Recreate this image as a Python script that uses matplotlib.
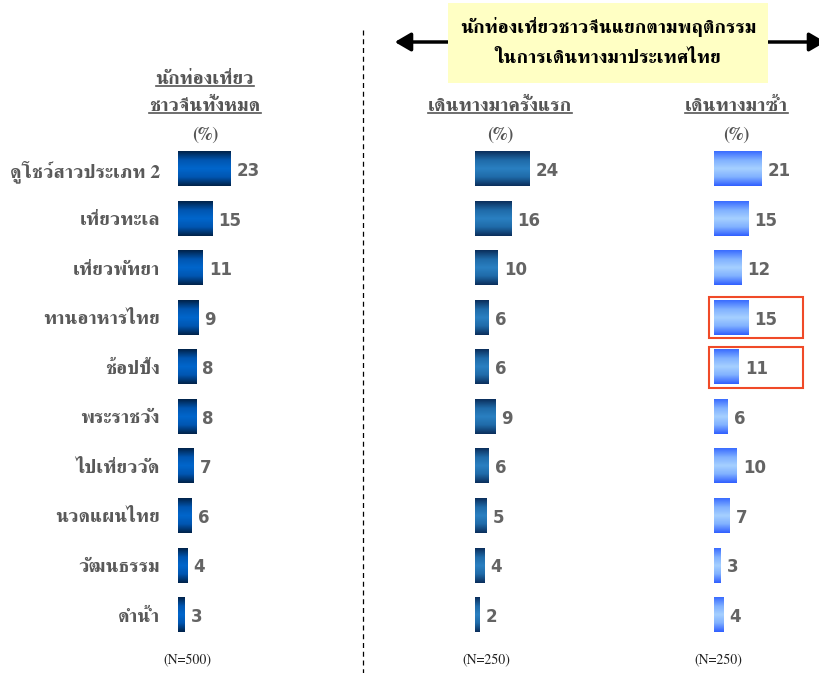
import numpy as np
import matplotlib
matplotlib.use("Agg")
import matplotlib.pyplot as plt
from matplotlib.colors import LinearSegmentedColormap
from matplotlib.patches import Rectangle, FancyArrowPatch

categories = ["ดูโชว์สาวประเภท 2", "เที่ยวทะเล", "เที่ยวพัทยา", "ทานอาหารไทย", "ช้อปปิ้ง",
              "พระราชวัง", "ไปเที่ยววัด", "นวดแผนไทย", "วัฒนธรรม", "ดำน้ำ"]
all_chinese = [23, 15, 11, 9, 8, 8, 7, 6, 4, 3]
first_time = [24, 16, 10, 6, 6, 9, 6, 5, 4, 2]
repeat = [21, 15, 12, 15, 11, 6, 10, 7, 3, 4]
panel_titles = [["นักท่องเที่ยว", "ชาวจีนทั้งหมด"], ["เดินทางมาครั้งแรก"], ["เดินทางมาซ้ำ"]]
sample_sizes = ["(N=500)", "(N=250)", "(N=250)"]
banner = ["นักท่องเที่ยวชาวจีนแยกตามพฤติกรรม", "ในการเดินทางมาประเทศไทย"]
highlight_rows = [3, 4]

THAI = ["FreeSerif", "DejaVu Sans"]
W, H = 819, 673
fig = plt.figure(figsize=(W / 100, H / 100), dpi=100)

def fx(px):
    return px / W

def fy(py):
    return 1 - py / H

scale = 2.27  # px per unit
row0, row_step = 169, 49.56
top_px = row0 - row_step / 2
bot_px = row0 + 9 * row_step + row_step / 2
ax_w_px = 110
cmaps = [
    LinearSegmentedColormap.from_list("p1", ["#00234a", "#0055b0", "#0066cc", "#0055b0", "#00234a"]),
    LinearSegmentedColormap.from_list("p2", ["#0b2f5c", "#1f6aa8", "#2a80c2", "#1f6aa8", "#0b2f5c"]),
    LinearSegmentedColormap.from_list("p3", ["#3a6cff", "#7fb0ff", "#a6d0ff", "#7fb0ff", "#3160ff"]),
]
starts = [178, 475, 714]
series = [all_chinese, first_time, repeat]
axes = []
grad = np.linspace(0, 1, 64).reshape(-1, 1)
for k in range(3):
    ax = fig.add_axes([fx(starts[k]), fy(bot_px), fx(ax_w_px), (bot_px - top_px) / H])
    xmax = ax_w_px / scale
    y = np.arange(len(categories))
    bars = ax.barh(y, series[k], height=0.69, color="none", edgecolor="none")
    for b, v in zip(bars, series[k]):
        x0, y0, w, h = b.get_x(), b.get_y(), b.get_width(), b.get_height()
        ax.imshow(grad, extent=[x0, x0 + w, y0 + h, y0], aspect="auto", cmap=cmaps[k],
                  interpolation="bilinear", zorder=2)
        ax.text(x0 + w + 6 / scale, b.get_y() + h / 2 + 0.04, str(v), va="center", ha="left",
                fontsize=12, fontweight="bold", color="#646464", family="DejaVu Sans")
    ax.set_xlim(0, xmax)
    ax.set_ylim(len(categories) - 0.5, -0.5)
    for s in ax.spines.values():
        s.set_visible(False)
    ax.set_xticks([])
    if k == 0:
        ax.set_yticks(y)
        ax.set_yticklabels(categories, fontsize=14, fontweight="bold", color="#595959",
                           family=THAI)
        ax.tick_params(axis="y", length=0, pad=13)
    else:
        ax.set_yticks([])
    ax.patch.set_alpha(0)
    axes.append(ax)

# highlight boxes on repeat panel
ax3 = axes[2]
for r in highlight_rows:
    ax3.add_patch(Rectangle((-5 / scale, r - 0.41), 94 / scale, 0.82, fill=False,
                            edgecolor="#f04a28", lw=1.5, zorder=3, clip_on=False))

# headers
hdr_x = [205, 500, 736]
hdr_lines_y = [[77, 104], [104], [104]]
title_texts = []
for k in range(3):
    for ln, yy in zip(panel_titles[k], hdr_lines_y[k]):
        t = fig.text(fx(hdr_x[k]), fy(yy), ln, ha="center", va="center_baseline",
                     fontsize=14, fontweight="bold", color="#555555", family=THAI)
        title_texts.append(t)
    fig.text(fx(hdr_x[k]), fy(135), "(%)", ha="center", va="center", fontsize=13,
             fontweight="bold", color="#555555", family=THAI)
    fig.text(fx([187, 486, 718][k]), fy(661), sample_sizes[k], ha="center", va="center",
             fontsize=10, color="#222222", family=THAI)

# banner with arrow
fig.add_artist(FancyArrowPatch((fx(392), fy(42)), (fx(828), fy(42)), transform=fig.transFigure,
                               arrowstyle="<|-|>,head_length=6,head_width=3.5", lw=2.5,
                               color="black", mutation_scale=1.6))
fig.add_artist(Rectangle((fx(448), fy(83)), fx(320), 80 / H, transform=fig.transFigure,
                         facecolor="#ffffc4", edgecolor="none", zorder=3))
for ln, yy in zip(banner, [25, 56]):
    fig.text(fx(608), fy(yy), ln, ha="center", va="center_baseline", fontsize=14,
             fontweight="bold", color="black", family=THAI, zorder=4)

# dashed divider
fig.add_artist(plt.Line2D([fx(363), fx(363)], [fy(30), fy(673)], transform=fig.transFigure,
                          color="black", lw=0.9, ls=(0, (4, 3))))

# underlines under headers
fig.canvas.draw()
r = fig.canvas.get_renderer()
for t in title_texts:
    bb = t.get_window_extent(r)
    xpos, ypos = t.get_position()
    ybase = ypos * H - 9
    fig.add_artist(plt.Line2D([bb.x0 / W, bb.x1 / W], [ybase / H, ybase / H],
                              transform=fig.transFigure, color="#555555", lw=1.2))

fig.savefig("out.png", dpi=100)
